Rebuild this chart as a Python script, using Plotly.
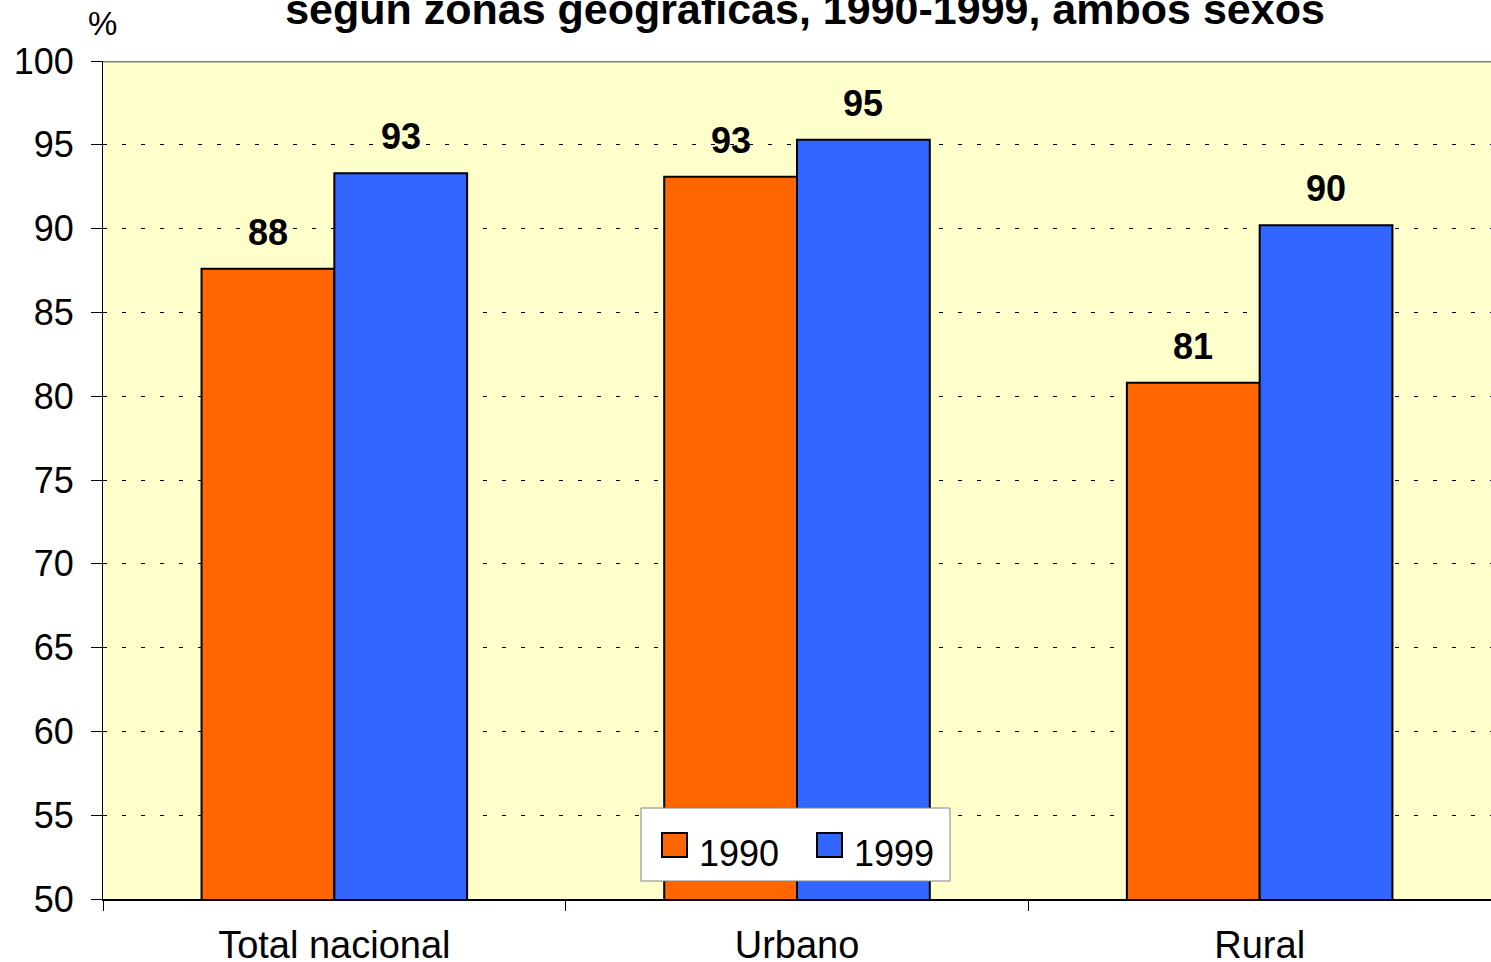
import plotly.graph_objects as go

categories = ["Total nacional", "Urbano", "Rural"]
series_names = ["1990", "1999"]
values_1990 = [87.6, 93.1, 80.8]
values_1999 = [93.3, 95.3, 90.2]
y_ticks = [50, 55, 60, 65, 70, 75, 80, 85, 90, 95, 100]
title_text = "según zonas geográficas, 1990-1999, ambos sexos"
y_unit = "%"

colors = ["#FF6600", "#3366FF"]
FONT = "Liberation Sans, Arial, sans-serif"

W, H = 1491, 962
ML, MR, MT, MB = 103, 0, 61, 63
PW, PH = W - ML - MR, H - MT - MB


def px(x):
    return (x - ML) / PW


def py(y):
    return (H - MB - y) / PH


fig = go.Figure()
for name, vals, col in zip(series_names, [values_1990, values_1999], colors):
    fig.add_trace(go.Bar(
        x=categories, y=vals, name=name, showlegend=False,
        marker=dict(color=col, line=dict(color="black", width=2)),
    ))

bargap = 0.426
bar_w = (1 - bargap) / 2
for k, vals in enumerate([values_1990, values_1999]):
    off = (k - 0.5) * bar_w
    for i, v in enumerate(vals):
        fig.add_annotation(
            x=i + off, y=v, xref="x", yref="y",
            text="<b>%d</b>" % round(v), showarrow=False,
            yanchor="bottom", yshift=14,
            font=dict(family=FONT, size=36, color="black"),
        )

# top border of plot area
fig.add_shape(type="line", xref="paper", yref="y", x0=0, x1=1, y0=100, y1=100,
              line=dict(color="#808080", width=3))

# legend box (drawn manually to match the large swatches)
fig.add_shape(type="rect", xref="paper", yref="paper", x0=px(641), x1=px(950), y0=py(881), y1=py(808),
              fillcolor="white", line=dict(color="#808080", width=1), layer="above")
sw = [(662, 687), (817, 842)]
tx = [697, 852]
for name, col, (x0, x1), t in zip(series_names, colors, sw, tx):
    fig.add_shape(type="rect", xref="paper", yref="paper", x0=px(x0), x1=px(x1), y0=py(857), y1=py(833),
                  fillcolor=col, line=dict(color="black", width=2), layer="above")
    fig.add_annotation(x=px(t), y=py(853), xref="paper", yref="paper", text=name, showarrow=False,
                       xanchor="left", yanchor="middle",
                       font=dict(family=FONT, size=36, color="black"))

fig.add_annotation(x=0, y=1, xref="paper", yref="paper", text=y_unit, showarrow=False,
                   xanchor="center", yanchor="bottom", xshift=-1, yshift=17,
                   font=dict(family=FONT, size=33, color="black"))

fig.update_layout(
    width=W, height=H,
    margin=dict(l=ML, r=MR, t=MT, b=MB, autoexpand=False),
    paper_bgcolor="white", plot_bgcolor="#FFFFCC",
    barmode="group", bargap=bargap, bargroupgap=0,
    title=dict(text="<b>" + title_text + "</b>", x=805 / W, xanchor="center",
               y=1 - 24 / H, yanchor="bottom", yref="container",
               font=dict(family=FONT, size=43, color="black")),
    font=dict(family=FONT, color="black"),
    showlegend=False,
)
fig.update_yaxes(range=[50, 100], tickvals=y_ticks, ticks="outside", ticklen=11, tickcolor="black",
                 showline=True, linecolor="black", linewidth=1, automargin=False,
                 showgrid=True, gridcolor="black", gridwidth=1, griddash="4px,15px",
                 tickfont=dict(family=FONT, size=36, color="black"),
                 ticklabelstandoff=10, zeroline=False)
fig.update_xaxes(type="category", ticks="outside", ticklen=10, tickcolor="black", tickson="boundaries",
                 showline=True, linecolor="black", linewidth=2, showgrid=False, automargin=False,
                 tickfont=dict(family=FONT, size=38, color="black"), ticklabelstandoff=11)

fig.write_html("out.html", config={"displayModeBar": False},
               post_script="document.body.style.margin='0';document.body.style.overflow='hidden';")
